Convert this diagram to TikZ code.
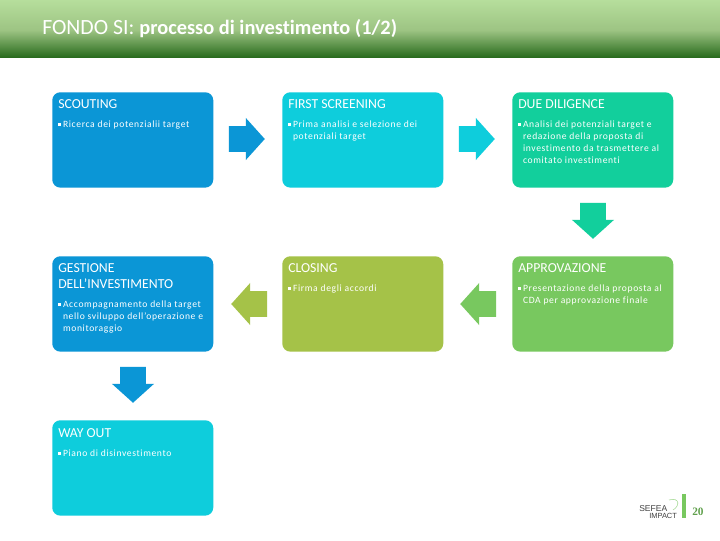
\documentclass[tikz,border=0pt]{standalone}
\usepackage{fontspec}
\setmainfont[Ligatures=NoCommon]{Carlito}
\newfontfamily\spaced[LetterSpace=6.5,Ligatures=NoCommon]{Carlito}
\newfontfamily\logofont{Liberation Sans}
\newfontfamily\numfont{Liberation Serif}
\usetikzlibrary{shapes.arrows}
\definecolor{cblue}{HTML}{0B96D6}
\definecolor{ccyan}{HTML}{0ECDDC}
\definecolor{cteal}{HTML}{12CF9C}
\definecolor{colive}{HTML}{A5C248}
\definecolor{cgreen}{HTML}{78C85F}
\definecolor{htop}{HTML}{B6DE9C}
\definecolor{hmid}{HTML}{9DC483}
\definecolor{hbot}{HTML}{2A6C1E}
\newcommand{\blt}{\rule[0.3ex]{2.4pt}{2.4pt}\,}
\newcommand{\ind}{\hspace*{3.6pt}}
\tikzset{
  x=0.75pt,y=-0.75pt,
  card/.style={fill=#1,draw=none,rounded corners=6pt,inner sep=0pt,anchor=north west,minimum width=120.75pt,minimum height=71.5pt},
  cardtitle/.style={anchor=north west,inner sep=0pt,text=white,font=\fontsize{10.3}{11.6}\selectfont,align=left},
  cardbody/.style={anchor=north west,inner sep=0pt,text=white,font=\spaced\fontsize{7.2}{9}\selectfont,align=left},
  blockarrow/.style={single arrow,fill=#1,draw=none,inner xsep=0pt,inner ysep=9.4pt,minimum height=27pt,
     single arrow head extend=6.2pt,single arrow tip angle=96,single arrow head indent=0pt,anchor=center},
}
\begin{document}
\begin{tikzpicture}
\useasboundingbox (0,0) rectangle (720,540);
\fill[white] (0,0) rectangle (720,540);
\shade[top color=htop,bottom color=hmid] (0,0) rectangle (720,30);
\shade[top color=hmid,bottom color=hbot] (0,30) rectangle (720,57);
\node[anchor=base west,inner sep=0pt,text=white,font=\fontsize{16.3}{18}\selectfont] (title) at (42,34) {FONDO SI: \fontsize{15.3}{18}\selectfont\bfseries processo di investimento (1/2)};
% cards
\node[card=cblue] (a) at (52,92) {};
\node[card=ccyan] (b) at (282,92) {};
\node[card=cteal] (c) at (512,92) {};
\node[card=cgreen] (d) at (512,256) {};
\node[card=colive] (e) at (282,256) {};
\node[card=cblue] (f) at (52,256) {};
\node[card=ccyan] (g) at (52,420) {};
% titles
\node[cardtitle] (at) at (58,99.5) {SCOUTING};
\node[cardtitle] (bt) at (288,99.5) {FIRST SCREENING};
\node[cardtitle] (ct) at (518,99.5) {DUE DILIGENCE};
\node[cardtitle] (dt) at (518,263.5) {APPROVAZIONE};
\node[cardtitle] (et) at (288,263.5) {CLOSING};
\node[cardtitle] (ft) at (58,263.5) {GESTIONE\\DELL’INVESTIMENTO};
\node[cardtitle] (gt) at (58,428.5) {WAY OUT};
% bodies
\node[cardbody] (ab) at (58,120.5) {\blt Ricerca dei potenzialii target};
\node[cardbody] (bb) at (288,120.5) {\blt Prima analisi e selezione dei\\\ind potenziali target};
\node[cardbody] (cb) at (518,120.5) {\blt Analisi dei potenziali target e\\\ind redazione della proposta di\\\ind investimento da trasmettere al\\\ind comitato investimenti};
\node[cardbody] (db) at (518,284.5) {\blt Presentazione della proposta al\\\ind CDA per approvazione finale};
\node[cardbody] (eb) at (288,284.5) {\blt Firma degli accordi};
\node[cardbody] (fb) at (58,300.5) {\blt Accompagnamento della target\\\ind nello sviluppo dell’operazione e\\\ind monitoraggio};
\node[cardbody] (gb) at (58,449.5) {\blt Piano di disinvestimento};
% block arrows
\node[blockarrow=cblue] (ab1) at (241,139) {};
\node[blockarrow=ccyan] (bc1) at (471,139) {};
\node[blockarrow=cteal,rotate=-90] (cd1) at (593,215) {};
\node[blockarrow=cgreen,rotate=180] (de1) at (484,304) {};
\node[blockarrow=colive,rotate=180] (ef1) at (255,304) {};
\node[blockarrow=cblue,rotate=-90] (fg1) at (133,379) {};
% logo
\node[anchor=base west,inner sep=0pt,text=black!75,font=\logofont\fontsize{6.4}{7}\selectfont] (logo1) at (639,511) {SEFEA};
\node[anchor=base west,inner sep=0pt,text=black!75,font=\logofont\fontsize{5.6}{7}\selectfont] (logo2) at (649,518) {IMPACT};
\draw[cgreen!70,line width=0.4pt] (669,500) .. controls (680,497) and (680,506) .. (673,510);
\fill[cgreen] (682,494) rectangle (685.5,518);
\node[anchor=base west,inner sep=0pt,text=cgreen!80!black,font=\numfont\bfseries\fontsize{8.5}{10}\selectfont] (pg) at (692,515) {20};
\end{tikzpicture}
\end{document}
